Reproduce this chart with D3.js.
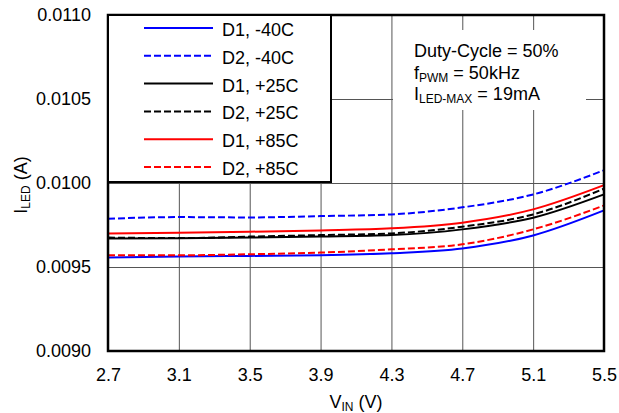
<!DOCTYPE html>
<html>
<head>
<meta charset="utf-8">
<script src="https://cdn.jsdelivr.net/npm/d3@7"></script>
<style>
  body { margin: 0; background: #fff; }
  text { font-family: "Liberation Sans", Arial, sans-serif; fill: #000; }
</style>
</head>
<body>
<svg id="chart" width="619" height="413"></svg>
<script>
// data
const vin = [2.7, 3.1, 3.5, 3.9, 4.3, 4.7, 5.1, 5.5];
const d1m40 = [0.009556, 0.009562, 0.009566, 0.009570, 0.009582, 0.009610, 0.009688, 0.009837];
const d2m40 = [0.009787, 0.009797, 0.009795, 0.009803, 0.009813, 0.009855, 0.009932, 0.010076];
const d1p25 = [0.009669, 0.009671, 0.009675, 0.009681, 0.009690, 0.009724, 0.009793, 0.009932];
const d2p25 = [0.009675, 0.009672, 0.009681, 0.009690, 0.009700, 0.009740, 0.009813, 0.009966];
const d1p85 = [0.009700, 0.009704, 0.009710, 0.009718, 0.009730, 0.009764, 0.009843, 0.009987];
const d2p85 = [0.009570, 0.009570, 0.009576, 0.009586, 0.009605, 0.009635, 0.009724, 0.009866];
const yTicks = [0.0090, 0.0095, 0.0100, 0.0105, 0.0110];
const xTicks = [2.7, 3.1, 3.5, 3.9, 4.3, 4.7, 5.1, 5.5];

const series = [
  { name: "D1, -40C", values: d1m40, color: "#0000ff", dash: null },
  { name: "D2, -40C", values: d2m40, color: "#0000ff", dash: "7,3" },
  { name: "D1, +25C", values: d1p25, color: "#000000", dash: null },
  { name: "D2, +25C", values: d2p25, color: "#000000", dash: "7,3" },
  { name: "D1, +85C", values: d1p85, color: "#ff0000", dash: null },
  { name: "D2, +85C", values: d2p85, color: "#ff0000", dash: "7,3" }
];

const svg = d3.select("#chart");
const margin = { left: 108, top: 15, right: 15, bottom: 62 };
const width = 619 - margin.left - margin.right;
const height = 413 - margin.top - margin.bottom;
const fs = "18px";

const x = d3.scaleLinear().domain([2.7, 5.5]).range([0, width]);
const y = d3.scaleLinear().domain([0.0090, 0.0110]).range([height, 0]);

const g = svg.append("g").attr("transform", `translate(${margin.left},${margin.top})`);

// grid
g.append("g")
  .attr("transform", `translate(0,${height})`)
  .call(d3.axisBottom(x).tickValues(xTicks).tickSize(-height).tickFormat(""))
  .call(a => a.select(".domain").remove())
  .selectAll("line").attr("stroke", "#555").attr("stroke-width", 1);
g.append("g")
  .call(d3.axisLeft(y).tickValues(yTicks).tickSize(-width).tickFormat(""))
  .call(a => a.select(".domain").remove())
  .selectAll("line").attr("stroke", "#555").attr("stroke-width", 1);

// white box behind annotation
g.append("rect")
  .attr("x", 393 - margin.left).attr("y", 30 - margin.top)
  .attr("width", 193).attr("height", 80)
  .attr("fill", "#fff");

// curves
const line = d3.line()
  .x((d, i) => x(vin[i]))
  .y(d => y(d))
  .curve(d3.curveMonotoneX);

g.selectAll(".curve")
  .data(series)
  .enter()
  .append("path")
  .attr("class", "curve")
  .attr("d", d => line(d.values))
  .attr("fill", "none")
  .attr("stroke", d => d.color)
  .attr("stroke-width", 2)
  .attr("stroke-dasharray", d => d.dash);

// frame
g.append("rect")
  .attr("width", width).attr("height", height)
  .attr("fill", "none").attr("stroke", "#000").attr("stroke-width", 2.5);

// tick labels
const xAxis = g.append("g")
  .attr("transform", `translate(0,${height})`)
  .call(d3.axisBottom(x).tickValues(xTicks).tickSize(0).tickFormat(d3.format(".1f")));
xAxis.select(".domain").remove();
xAxis.selectAll("text")
  .attr("y", 30).attr("dy", 0)
  .style("font-size", fs).style("font-family", "Liberation Sans, Arial, sans-serif");

const yAxis = g.append("g")
  .call(d3.axisLeft(y).tickValues(yTicks).tickSize(0).tickPadding(17).tickFormat(d3.format(".4f")));
yAxis.select(".domain").remove();
yAxis.selectAll("text").style("font-size", fs).style("font-family", "Liberation Sans, Arial, sans-serif");

// axis titles
const xt = svg.append("text")
  .attr("x", margin.left + width / 2).attr("y", 408)
  .attr("text-anchor", "middle").style("font-size", fs);
xt.append("tspan").text("V");
xt.append("tspan").text("IN").attr("dy", 3).style("font-size", "12px");
xt.append("tspan").text(" (V)").attr("dy", -3);

const yt = svg.append("text")
  .attr("transform", `translate(27,${margin.top + y(0.0100) + 2}) rotate(-90)`)
  .attr("text-anchor", "middle").style("font-size", fs);
yt.append("tspan").text("I");
yt.append("tspan").text("LED").attr("dy", 3).style("font-size", "12px");
yt.append("tspan").text(" (A)").attr("dy", -3);

// annotation
const ann = svg.append("g").attr("transform", "translate(414,0)").style("font-size", fs);
ann.append("text").attr("y", 57).text("Duty-Cycle = 50%");
const f = ann.append("text").attr("y", 79);
f.append("tspan").text("f");
f.append("tspan").text("PWM").attr("dy", 3).style("font-size", "12px");
f.append("tspan").text(" = 50kHz").attr("dy", -3);
const im = ann.append("text").attr("y", 100);
im.append("tspan").text("I");
im.append("tspan").text("LED-MAX").attr("dy", 3).style("font-size", "12px");
im.append("tspan").text(" = 19mA").attr("dy", -3);

// legend
const leg = svg.append("g");
leg.append("rect")
  .attr("x", margin.left).attr("y", margin.top)
  .attr("width", 223).attr("height", 167)
  .attr("fill", "#fff").attr("stroke", "#000").attr("stroke-width", 2);
const items = leg.selectAll(".item")
  .data(series)
  .enter()
  .append("g")
  .attr("transform", (d, i) => `translate(144,${28 + i * 27.8})`);
items.append("line")
  .attr("x1", 0).attr("x2", 69)
  .attr("stroke", d => d.color)
  .attr("stroke-width", 2)
  .attr("stroke-dasharray", d => d.dash);
items.append("text")
  .attr("x", 78).attr("y", 8)
  .style("font-size", fs)
  .text(d => d.name);
</script>
</body>
</html>
